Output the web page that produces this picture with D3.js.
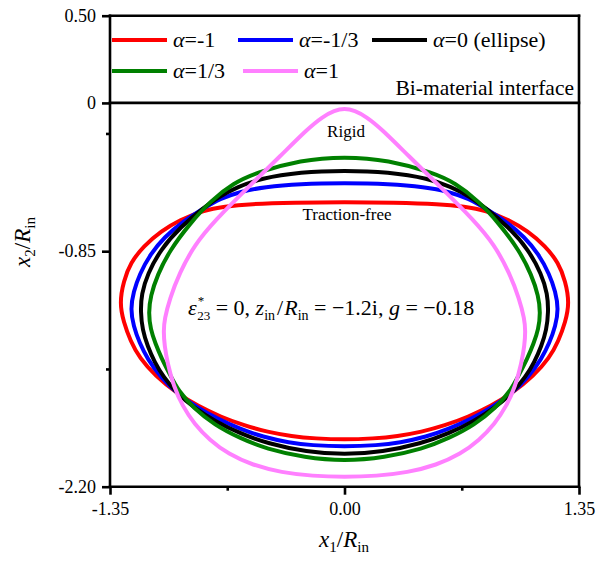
<!DOCTYPE html>
<html>
<head>
<meta charset="utf-8">
<script src="https://cdn.jsdelivr.net/npm/d3@7"></script>
<style>
  html, body { margin: 0; padding: 0; background: #fff; }
  svg { display: block; }
</style>
</head>
<body>
<div id="chart"></div>
<script>
// Inclusion boundary shapes (x1/Rin, x2/Rin), closed loops traced clockwise from the top.
const curveRed = [
  [0,-0.568],[0.288,-0.571],[0.547,-0.579],[0.691,-0.594],[0.812,-0.616],[0.950,-0.671],
  [1.054,-0.734],[1.157,-0.820],[1.232,-0.917],[1.272,-1.021],[1.295,-1.147],[1.272,-1.256],
  [1.232,-1.365],[1.180,-1.462],[1.088,-1.565],[0.967,-1.663],[0.841,-1.739],[0.714,-1.799],
  [0.576,-1.850],[0.443,-1.886],[0.305,-1.911],[0.167,-1.924],[0,-1.931],
  [-0.167,-1.924],[-0.305,-1.911],[-0.443,-1.886],[-0.576,-1.850],[-0.714,-1.799],[-0.841,-1.739],
  [-0.967,-1.663],[-1.088,-1.565],[-1.180,-1.462],[-1.232,-1.365],[-1.272,-1.256],[-1.295,-1.147],
  [-1.272,-1.021],[-1.232,-0.917],[-1.157,-0.820],[-1.054,-0.734],[-0.950,-0.671],[-0.812,-0.616],
  [-0.691,-0.594],[-0.547,-0.579],[-0.288,-0.571]
];
const curveBlue = [
  [0,-0.459],[0.259,-0.464],[0.461,-0.482],[0.599,-0.508],[0.714,-0.548],[0.812,-0.605],
  [0.933,-0.682],[1.036,-0.768],[1.117,-0.866],[1.180,-0.981],[1.215,-1.084],[1.232,-1.181],
  [1.215,-1.279],[1.180,-1.376],[1.134,-1.468],[1.059,-1.571],[0.967,-1.663],[0.852,-1.743],
  [0.731,-1.811],[0.599,-1.870],[0.472,-1.914],[0.317,-1.948],[0.190,-1.963],[0,-1.970],
  [-0.190,-1.963],[-0.317,-1.948],[-0.472,-1.914],[-0.599,-1.870],[-0.731,-1.811],[-0.852,-1.743],
  [-0.967,-1.663],[-1.059,-1.571],[-1.134,-1.468],[-1.180,-1.376],[-1.215,-1.279],[-1.232,-1.181],
  [-1.215,-1.084],[-1.180,-0.981],[-1.117,-0.866],[-1.036,-0.768],[-0.933,-0.682],[-0.812,-0.605],
  [-0.714,-0.548],[-0.599,-0.508],[-0.461,-0.482],[-0.259,-0.464]
];
const curveBlack = [
  [0,-0.387],[0.253,-0.396],[0.484,-0.433],[0.616,-0.482],[0.720,-0.536],[0.812,-0.602],
  [0.944,-0.711],[1.059,-0.840],[1.134,-0.981],[1.169,-1.095],[1.174,-1.198],[1.163,-1.302],
  [1.134,-1.393],[1.094,-1.485],[1.042,-1.571],[0.967,-1.663],[0.864,-1.749],[0.748,-1.823],
  [0.599,-1.896],[0.443,-1.952],[0.219,-2.001],[0,-2.017],
  [-0.219,-2.001],[-0.443,-1.952],[-0.599,-1.896],[-0.748,-1.823],[-0.864,-1.749],[-0.967,-1.663],
  [-1.042,-1.571],[-1.094,-1.485],[-1.134,-1.393],[-1.163,-1.302],[-1.174,-1.198],[-1.169,-1.095],
  [-1.134,-0.981],[-1.059,-0.840],[-0.944,-0.711],[-0.812,-0.602],[-0.720,-0.536],[-0.616,-0.482],
  [-0.484,-0.433],[-0.253,-0.396]
];
const curveGreen = [
  [0,-0.307],[0.253,-0.327],[0.507,-0.399],[0.639,-0.459],[0.771,-0.562],[0.887,-0.688],
  [1.007,-0.846],[1.077,-0.986],[1.117,-1.107],[1.128,-1.204],[1.117,-1.296],[1.088,-1.382],
  [1.054,-1.462],[1.007,-1.554],[0.956,-1.651],[0.869,-1.749],[0.748,-1.846],[0.604,-1.921],
  [0.449,-1.984],[0.230,-2.033],[0,-2.053],
  [-0.230,-2.033],[-0.449,-1.984],[-0.604,-1.921],[-0.748,-1.846],[-0.869,-1.749],[-0.956,-1.651],
  [-1.007,-1.554],[-1.054,-1.462],[-1.088,-1.382],[-1.117,-1.296],[-1.128,-1.204],[-1.117,-1.107],
  [-1.077,-0.986],[-1.007,-0.846],[-0.887,-0.688],[-0.771,-0.562],[-0.639,-0.459],[-0.507,-0.399],
  [-0.253,-0.327]
];
const curvePink = [
  [0,-0.031],[0.058,-0.043],[0.127,-0.080],[0.213,-0.149],[0.363,-0.298],[0.564,-0.493],
  [0.743,-0.671],[0.864,-0.814],[0.950,-0.975],[1.007,-1.124],[1.036,-1.239],[1.042,-1.307],
  [1.036,-1.393],[1.019,-1.491],[0.984,-1.623],[0.933,-1.737],[0.864,-1.841],[0.777,-1.932],
  [0.668,-2.013],[0.530,-2.076],[0.363,-2.119],[0.184,-2.139],[0,-2.144],
  [-0.184,-2.139],[-0.363,-2.119],[-0.530,-2.076],[-0.668,-2.013],[-0.777,-1.932],[-0.864,-1.841],
  [-0.933,-1.737],[-0.984,-1.623],[-1.019,-1.491],[-1.036,-1.393],[-1.042,-1.307],[-1.036,-1.239],
  [-1.007,-1.124],[-0.950,-0.975],[-0.864,-0.814],[-0.743,-0.671],[-0.564,-0.493],[-0.363,-0.298],
  [-0.213,-0.149],[-0.127,-0.080],[-0.058,-0.043]
];

const alphaLabels = ["-1", "-1/3", "0 (ellipse)", "1/3", "1"];
const seriesColors = ["#ff0000", "#0000ff", "#000000", "#008000", "#ff80ff"];
const seriesData = [curveRed, curveBlue, curveBlack, curveGreen, curvePink];

const xTicks = [-1.35, 0, 1.35];
const xTickLabels = ["-1.35", "0.00", "1.35"];
const xMinorTicks = [-0.675, 0.675];
const yTicks = [-2.2, -0.85, 0, 0.5];
const yTickLabels = ["-2.20", "-0.85", "0", "0.50"];
const yMinorTicks = [-1.525, -0.175];

const W = 596, H = 561;
const box = { left: 110, right: 579, top: 15.7, bottom: 486.7 };
const serif = "Liberation Serif, Times New Roman, serif";

const svg = d3.select("#chart").append("svg").attr("width", W).attr("height", H)
  .style("font-family", serif);

const x = d3.scaleLinear().domain([-1.35, 1.35]).range([box.left, box.right]);
const y = d3.scaleLinear().domain([-2.2, 0.5]).range([box.bottom, box.top]);

// inclusion boundaries
const line = d3.line().x(d => x(d[0])).y(d => y(d[1])).curve(d3.curveBasisClosed);
svg.append("g").selectAll("path").data(seriesData).join("path")
  .attr("d", d => line(d))
  .attr("fill", "none")
  .attr("stroke", (d, i) => seriesColors[i])
  .attr("stroke-width", 4);

// axes
const axisStroke = 2.6;
const yAxisG = svg.append("g").attr("transform", `translate(${box.left},0)`)
  .call(d3.axisLeft(y).tickValues(yTicks).tickFormat((d, i) => yTickLabels[i]).tickSize(8).tickSizeOuter(0).tickPadding(6));
const yMinorG = svg.append("g").attr("transform", `translate(${box.left},0)`)
  .call(d3.axisLeft(y).tickValues(yMinorTicks).tickFormat("").tickSize(4).tickSizeOuter(0));
const xAxisG = svg.append("g").attr("transform", `translate(0,${box.bottom})`)
  .call(d3.axisBottom(x).tickValues(xTicks).tickFormat((d, i) => xTickLabels[i]).tickSize(8).tickSizeOuter(0).tickPadding(8));
const xMinorG = svg.append("g").attr("transform", `translate(0,${box.bottom})`)
  .call(d3.axisBottom(x).tickValues(xMinorTicks).tickFormat("").tickSize(4).tickSizeOuter(0));

[yAxisG, yMinorG, xAxisG, xMinorG].forEach(g => {
  g.selectAll(".domain").remove();
  g.selectAll(".tick line").attr("stroke", "#000").attr("stroke-width", axisStroke);
  g.selectAll(".tick text").style("font-family", serif).attr("font-size", 18).attr("fill", "#000");
});

// frame and interface line
const frame = svg.append("g").attr("stroke", "#000").attr("stroke-width", axisStroke).attr("stroke-linecap", "square");
frame.append("line").attr("x1", box.left).attr("x2", box.left).attr("y1", box.top).attr("y2", box.bottom);
frame.append("line").attr("x1", box.left).attr("x2", box.right).attr("y1", box.bottom).attr("y2", box.bottom);
frame.append("line").attr("x1", box.left).attr("x2", box.right).attr("y1", box.top).attr("y2", box.top);
frame.append("line").attr("x1", box.right).attr("x2", box.right).attr("y1", box.top).attr("y2", box.bottom);
frame.append("line").attr("x1", box.left).attr("x2", box.right).attr("y1", y(0)).attr("y2", y(0));

// legend
const legendPos = [[112, 40], [238, 40], [372, 40], [112, 71], [243, 71]];
const lg = svg.append("g");
alphaLabels.forEach((lab, i) => {
  const [lx, ly] = legendPos[i];
  lg.append("line").attr("x1", lx).attr("x2", lx + 55).attr("y1", ly).attr("y2", ly)
    .attr("stroke", seriesColors[i]).attr("stroke-width", 4);
  const t = lg.append("text").attr("x", lx + 61).attr("y", ly + 7).attr("font-size", 22);
  t.append("tspan").attr("font-style", "italic").text("α");
  t.append("tspan").text("=" + lab);
});

svg.append("text").attr("x", 574).attr("y", 95).attr("text-anchor", "end").attr("font-size", 21.5)
  .text("Bi-material interface");

// shape annotations
svg.append("text").attr("x", 346).attr("y", 137).attr("text-anchor", "middle").attr("font-size", 17).text("Rigid");
svg.append("text").attr("x", 347).attr("y", 220).attr("text-anchor", "middle").attr("font-size", 17).text("Traction-free");

// parameter annotation
const ann = svg.append("text").attr("x", 188).attr("y", 315).attr("font-size", 22);
ann.append("tspan").attr("font-style", "italic").text("ε");
ann.append("tspan").attr("font-size", 13).attr("dy", -10).attr("dx", 1).text("*");
ann.append("tspan").attr("font-size", 13).attr("dy", 15).attr("dx", -7).text("23");
ann.append("tspan").attr("dy", -5).text(" = 0,  ");
ann.append("tspan").attr("font-style", "italic").text("z");
ann.append("tspan").attr("font-size", 14).attr("dy", 5).text("in");
ann.append("tspan").attr("dy", -5).attr("dx", 2).text("/");
ann.append("tspan").attr("font-style", "italic").attr("dx", 1).text("R");
ann.append("tspan").attr("font-size", 14).attr("dy", 5).text("in");
ann.append("tspan").attr("dy", -5).text(" = −1.2i, ");
ann.append("tspan").attr("font-style", "italic").text("g");
ann.append("tspan").text(" = −0.18");

// axis titles
const xt = svg.append("text").attr("x", 344).attr("y", 547).attr("text-anchor", "middle").attr("font-size", 23);
xt.append("tspan").attr("font-style", "italic").text("x");
xt.append("tspan").attr("font-size", 15).attr("dy", 5).text("1");
xt.append("tspan").attr("dy", -5).text("/");
xt.append("tspan").attr("font-style", "italic").text("R");
xt.append("tspan").attr("font-size", 15).attr("dy", 5).text("in");

const yt = svg.append("text").attr("transform", "translate(30,242) rotate(-90)").attr("text-anchor", "middle").attr("font-size", 23);
yt.append("tspan").attr("font-style", "italic").text("x");
yt.append("tspan").attr("font-size", 15).attr("dy", 5).text("2");
yt.append("tspan").attr("dy", -5).text("/");
yt.append("tspan").attr("font-style", "italic").text("R");
yt.append("tspan").attr("font-size", 15).attr("dy", 5).text("in");
</script>
</body>
</html>
